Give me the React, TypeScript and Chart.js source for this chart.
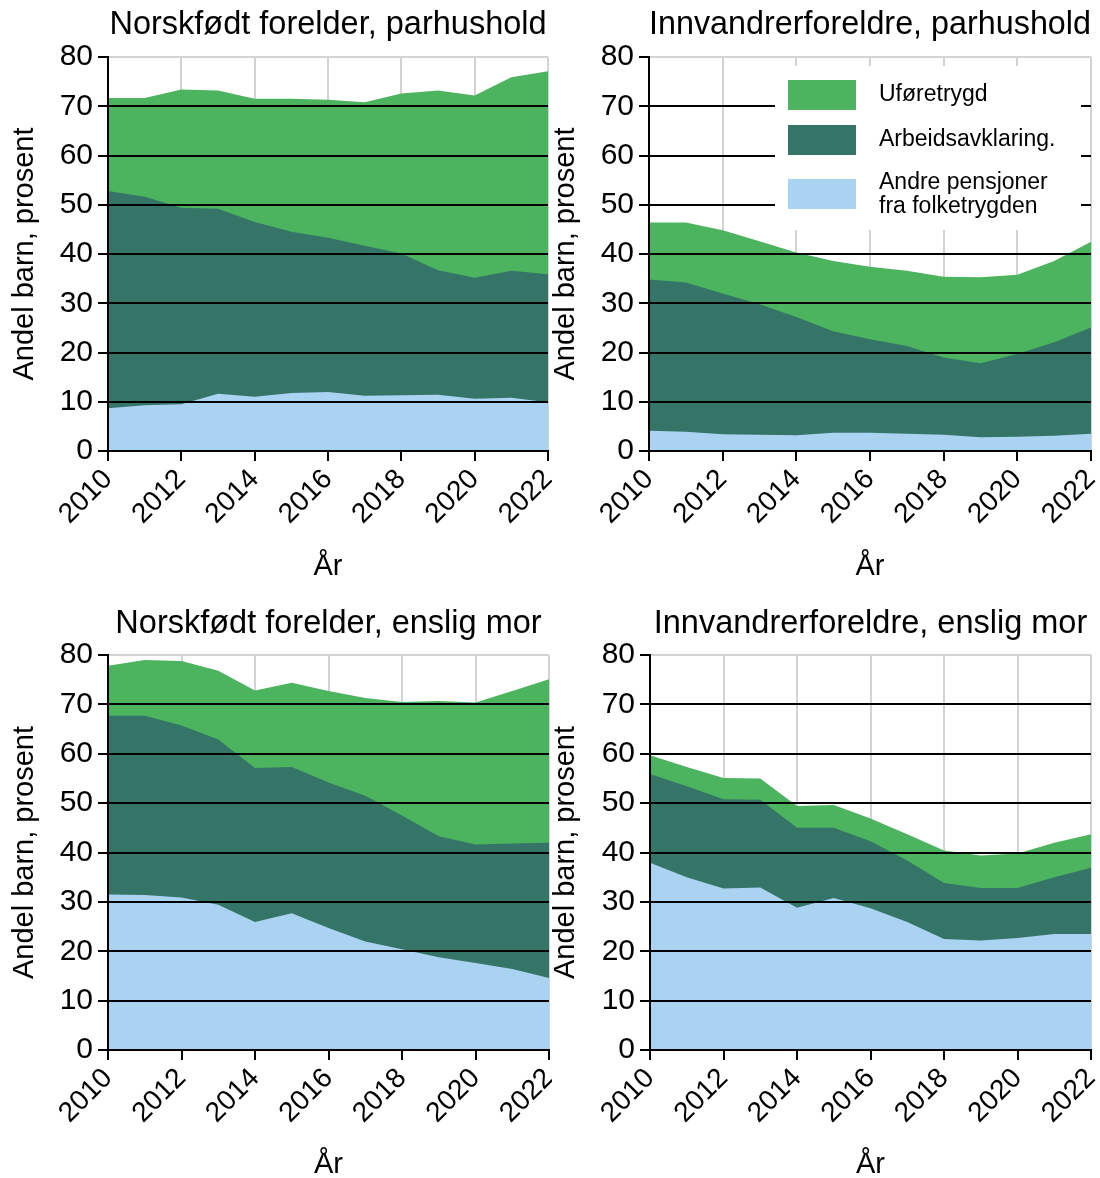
import React, { useEffect, useRef } from 'react';
import { Chart, registerables } from 'chart.js';

Chart.register(...registerables);
Chart.defaults.font.family = "'Liberation Sans', Arial, Helvetica, sans-serif";
Chart.defaults.color = '#000';

// ---- data ----
const years = [2010, 2011, 2012, 2013, 2014, 2015, 2016, 2017, 2018, 2019, 2020, 2021, 2022];
const yTickValues = [0, 10, 20, 30, 40, 50, 60, 70, 80];
const xTickStep = 2;

const seriesNames = ['Andre pensjoner fra folketrygden', 'Arbeidsavklaring.', 'Uføretrygd'];
const legendLines = [['Uføretrygd'], ['Arbeidsavklaring.'], ['Andre pensjoner', 'fra folketrygden']];

const panelTitles = [
  'Norskfødt forelder, parhushold',
  'Innvandrerforeldre, parhushold',
  'Norskfødt forelder, enslig mor',
  'Innvandrerforeldre, enslig mor',
];
const xAxisTitle = 'År';
const yAxisTitle = 'Andel barn, prosent';

// Norskfødt forelder, parhushold
const andreNorskPar = [8.7, 9.3, 9.5, 11.6, 11.0, 11.8, 12.0, 11.2, 11.3, 11.4, 10.6, 10.8, 9.9];
const arbeidNorskPar = [44.1, 42.3, 39.9, 37.6, 35.5, 32.7, 31.3, 30.5, 28.8, 25.3, 24.6, 25.8, 26.0];
const uforeNorskPar = [18.9, 20.1, 24.0, 24.0, 25.0, 27.0, 28.0, 29.1, 32.5, 36.5, 37.0, 39.3, 41.2];

// Innvandrerforeldre, parhushold
const andreInnvPar = [4.1, 3.9, 3.4, 3.3, 3.2, 3.7, 3.7, 3.5, 3.3, 2.8, 2.9, 3.1, 3.5];
const arbeidInnvPar = [30.7, 30.3, 28.6, 26.5, 24.0, 20.6, 19.0, 17.8, 15.7, 15.0, 16.8, 19.0, 21.6];
const uforeInnvPar = [11.6, 12.2, 12.8, 12.8, 13.1, 14.3, 14.7, 15.3, 16.4, 17.5, 16.1, 16.5, 17.4];

// Norskfødt forelder, enslig mor
const andreNorskMor = [31.5, 31.4, 30.9, 29.4, 25.9, 27.7, 24.7, 22.0, 20.4, 18.8, 17.6, 16.4, 14.6];
const arbeidNorskMor = [36.2, 36.3, 34.8, 33.5, 31.2, 29.6, 29.5, 29.5, 27.1, 24.5, 24.0, 25.4, 27.4];
const uforeNorskMor = [10.1, 11.3, 13.1, 13.9, 15.7, 17.1, 18.5, 19.8, 23.0, 27.4, 28.8, 30.9, 33.1];

// Innvandrerforeldre, enslig mor
const andreInnvMor = [37.9, 35.0, 32.7, 32.9, 28.8, 30.8, 28.7, 25.9, 22.5, 22.2, 22.7, 23.5, 23.5];
const arbeidInnvMor = [18.0, 18.4, 18.1, 17.8, 16.2, 14.2, 13.6, 12.5, 11.3, 10.6, 10.1, 11.5, 13.4];
const uforeInnvMor = [3.8, 3.9, 4.3, 4.3, 4.4, 4.6, 4.6, 5.3, 6.6, 6.6, 7.0, 7.0, 6.8];

// ---- styles / layout ----
const COLORS = ['#aad2f1', '#357567', '#4cb35f'];
const GRID_GRAY = '#d3d3d3';

const panels = [
  { title: panelTitles[0], series: [andreNorskPar, arbeidNorskPar, uforeNorskPar], legend: false,
    left: 0, top: 0, width: 552, height: 588, plotLeft: 108, plotRight: 548, plotTop: 57, plotBottom: 451,
    titleCY: 25, xTitleCY: 567, yTitleCX: 25 },
  { title: panelTitles[1], series: [andreInnvPar, arbeidInnvPar, uforeInnvPar], legend: true,
    left: 545, top: 0, width: 555, height: 588, plotLeft: 649, plotRight: 1091, plotTop: 57, plotBottom: 451,
    titleCY: 25, xTitleCY: 567, yTitleCX: 566 },
  { title: panelTitles[2], series: [andreNorskMor, arbeidNorskMor, uforeNorskMor], legend: false,
    left: 0, top: 592, width: 552, height: 586, plotLeft: 108, plotRight: 549, plotTop: 655, plotBottom: 1050,
    titleCY: 624, xTitleCY: 1165, yTitleCX: 25 },
  { title: panelTitles[3], series: [andreInnvMor, arbeidInnvMor, uforeInnvMor], legend: false,
    left: 545, top: 592, width: 555, height: 586, plotLeft: 650, plotRight: 1091, plotTop: 655, plotBottom: 1050,
    titleCY: 624, xTitleCY: 1165, yTitleCX: 566 },
];

const TITLE_SIZE = 32.5;
const AXIS_TITLE_SIZE = 29;
const X_TICK_SIZE = 28;
const Y_TICK_SIZE = 30;
const LEGEND_SIZE = 23;

const legendPlugin = {
  id: 'boxLegend',
  afterDraw(chart: any) {
    const opts = chart.options.plugins.boxLegend;
    if (!opts || !opts.show) return;
    const { ctx, chartArea } = chart;
    const x0 = chartArea.left + 126;
    const y0 = chartArea.top + 9;
    const x1 = chartArea.right - 10;
    const y1 = chartArea.top + 173;
    ctx.save();
    ctx.fillStyle = '#ffffff';
    ctx.fillRect(x0, y0, x1 - x0, y1 - y0);
    const order = [2, 1, 0];
    const squareTops = [23, 68, 122];
    const textCenters = [[38], [83], [126, 150]];
    order.forEach((si, k) => {
      ctx.fillStyle = COLORS[si];
      ctx.fillRect(chartArea.left + 139, chartArea.top + squareTops[k], 68, 30);
      ctx.fillStyle = '#000';
      ctx.font = `${LEGEND_SIZE}px 'Liberation Sans', Arial, sans-serif`;
      ctx.textBaseline = 'middle';
      ctx.textAlign = 'left';
      legendLines[k].forEach((line, li) => {
        ctx.fillText(line, chartArea.left + 230, chartArea.top + textCenters[k][li]);
      });
    });
    ctx.restore();
  },
};

function Panel({ cfg }: { cfg: any }) {
  const ref = useRef<HTMLCanvasElement | null>(null);
  useEffect(() => {
    const c = cfg;
    const relPlotTop = c.plotTop - c.top;
    const relPlotBottom = c.plotBottom - c.top;
    const titleLH = TITLE_SIZE * 1.2;
    const titlePadTop = c.titleCY - c.top - titleLH / 2;
    const titlePadBottom = relPlotTop - titlePadTop - titleLH;
    const axisLH = AXIS_TITLE_SIZE * 1.2;
    const xTitlePadBottom = c.height - (c.xTitleCY - c.top) - axisLH / 2;
    const yTitlePadTop = c.yTitleCX - c.left - axisLH / 2;
    const toPts = (arr: number[]) => arr.map((v, i) => ({ x: years[i], y: v }));

    const chart = new Chart(ref.current as HTMLCanvasElement, {
      type: 'line',
      data: {
        datasets: c.series.map((arr: number[], i: number) => ({
          label: seriesNames[i],
          data: toPts(arr),
          backgroundColor: COLORS[i],
          borderColor: 'rgba(0,0,0,0)',
          borderWidth: 0,
          pointRadius: 0,
          pointHoverRadius: 0,
          tension: 0,
          fill: 'origin',
        })),
      },
      options: {
        responsive: false,
        animation: false,
        devicePixelRatio: 1,
        events: [],
        layout: { padding: { top: 0, left: 0, bottom: 0, right: c.width - (c.plotRight - c.left) } },
        plugins: {
          legend: { display: false },
          tooltip: { enabled: false },
          title: {
            display: true,
            text: c.title,
            fullSize: false,
            color: '#000',
            font: { size: TITLE_SIZE, weight: 'normal' },
            padding: { top: titlePadTop, bottom: titlePadBottom },
          },
          boxLegend: { show: c.legend },
        } as any,
        scales: {
          x: {
            type: 'linear',
            min: years[0],
            max: years[years.length - 1],
            afterFit: (s: any) => {
              s.height = c.height - relPlotBottom;
              s.paddingLeft = 0;
              s.paddingRight = 0;
            },
            ticks: {
              stepSize: xTickStep,
              minRotation: 45,
              maxRotation: 45,
              color: '#000',
              padding: 2,
              font: { size: X_TICK_SIZE },
              callback: (v: any) => String(v),
            },
            grid: { color: GRID_GRAY, lineWidth: 2, tickColor: '#000', tickLength: 10, tickWidth: 2 },
            border: { display: true, color: '#000', width: 2, z: 1 },
            title: {
              display: true,
              text: xAxisTitle,
              color: '#000',
              font: { size: AXIS_TITLE_SIZE },
              padding: { top: 0, bottom: xTitlePadBottom },
            },
          },
          y: {
            stacked: true,
            min: yTickValues[0],
            max: yTickValues[yTickValues.length - 1],
            afterFit: (s: any) => {
              s.width = c.plotLeft - c.left;
            },
            afterBuildTicks: (s: any) => {
              s.ticks = yTickValues.map((v) => ({ value: v }));
            },
            ticks: {
              color: '#000',
              padding: 5,
              font: { size: Y_TICK_SIZE },
              callback: (v: any) => String(v),
            },
            grid: {
              color: (ctx: any) => (ctx.tick && ctx.tick.value === yTickValues[yTickValues.length - 1] ? GRID_GRAY : '#000'),
              lineWidth: 2,
              tickColor: '#000',
              tickLength: 10,
              tickWidth: 2,
              z: 1,
            },
            border: { display: true, color: '#000', width: 2, z: 1 },
            title: {
              display: true,
              text: yAxisTitle,
              color: '#000',
              font: { size: AXIS_TITLE_SIZE },
              padding: { top: yTitlePadTop, bottom: 0 },
            },
          },
        },
      } as any,
      plugins: [legendPlugin],
    });
    return () => chart.destroy();
  }, [cfg]);
  return (
    <canvas
      ref={ref}
      width={cfg.width}
      height={cfg.height}
      style={{ position: 'absolute', left: cfg.left, top: cfg.top, width: cfg.width, height: cfg.height }}
    />
  );
}

export default function App() {
  return (
    <div style={{ position: 'absolute', left: 0, top: 0, width: 1100, height: 1178, overflow: 'hidden', background: '#fff' }}>
      {panels.map((p, i) => (
        <Panel key={i} cfg={p} />
      ))}
    </div>
  );
}
